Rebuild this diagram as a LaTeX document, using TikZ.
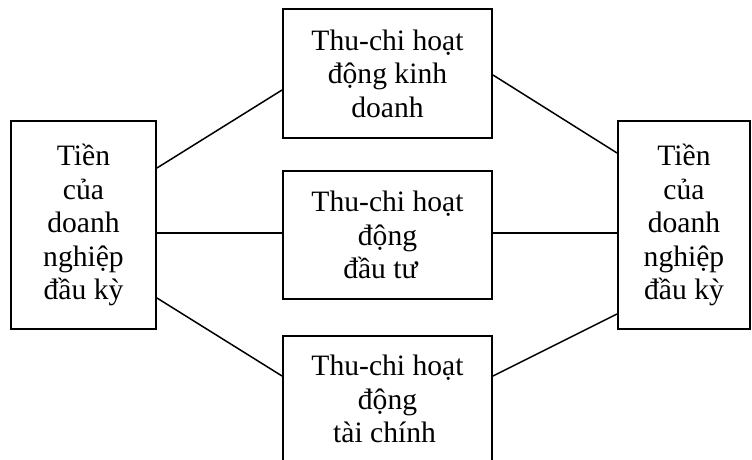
\documentclass[tikz,border=0pt]{standalone}
\usepackage{fontspec}
\setmainfont{Liberation Serif}
\begin{document}
\begin{tikzpicture}[x=1pt,y=-1pt,
  box/.style={draw, line width=1.9pt, align=center, inner sep=0pt,
    font=\fontsize{29.6}{33.5}\selectfont},
  link/.style={line width=1.5pt}]
\useasboundingbox (0,0) rectangle (752,460);
\clip (0,0) rectangle (752,460);
\node[box, minimum width=145pt, minimum height=208pt] (L) at (83.5,225) {Tiền\\của\\doanh\\nghiệp\\đầu kỳ};
\node[box, minimum width=132pt, minimum height=208pt] (R) at (684,225) {Tiền\\của\\doanh\\nghiệp\\đầu kỳ};
\node[box, minimum width=209pt, minimum height=129pt] (T) at (387.5,73.5) {Thu-chi hoạt\\động kinh\\doanh};
\node[box, minimum width=209pt, minimum height=128pt] (M) at (387.5,235) {Thu-chi hoạt\\động\\đầu tư\hspace*{14pt}};
\node[box, minimum width=209pt, minimum height=126pt] (B) at (387.5,399) {Thu-chi hoạt\\động\\tài chính\hspace*{6pt}};
\draw[link] ([yshift=57pt]L.east) -- ([yshift=-16.5pt]T.west);
\draw[link] ([yshift=-1.5pt]T.east) -- ([yshift=72pt]R.west);
\draw[link] ([yshift=2pt]M.west) -- ([yshift=2pt]M.west -| L.east);
\draw[link] ([yshift=2pt]M.east) -- ([yshift=2pt]M.east -| R.west);
\draw[link] ([yshift=-73pt]L.east) -- ([yshift=23pt]B.west);
\draw[link] ([yshift=23pt]B.east) -- ([yshift=-89pt]R.west);
\end{tikzpicture}
\end{document}
